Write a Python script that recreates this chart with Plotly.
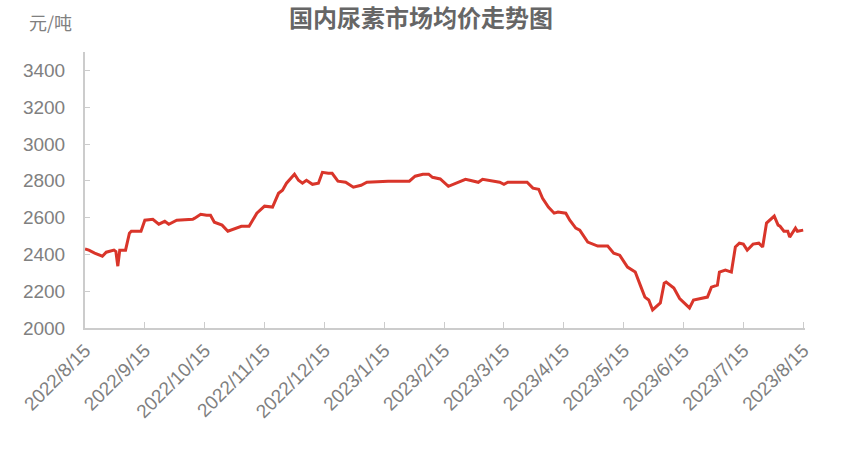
import datetime as dt
import plotly.graph_objects as go

# ---- data ----
dates = [
    "2022-08-15", "2022-08-17", "2022-08-20", "2022-08-24", "2022-08-26", "2022-08-30", "2022-08-31",
    "2022-09-01", "2022-09-02", "2022-09-05", "2022-09-07", "2022-09-08", "2022-09-13", "2022-09-15",
    "2022-09-19", "2022-09-22", "2022-09-25", "2022-09-27", "2022-10-01", "2022-10-09", "2022-10-10",
    "2022-10-13", "2022-10-16", "2022-10-18", "2022-10-20", "2022-10-24", "2022-10-27", "2022-11-01",
    "2022-11-03", "2022-11-07", "2022-11-11", "2022-11-15", "2022-11-18", "2022-11-19", "2022-11-22",
    "2022-11-24", "2022-11-26", "2022-11-30", "2022-12-02", "2022-12-04", "2022-12-06", "2022-12-09",
    "2022-12-12", "2022-12-14", "2022-12-17", "2022-12-19", "2022-12-22", "2022-12-26", "2022-12-30",
    "2023-01-03", "2023-01-06", "2023-01-17", "2023-01-28", "2023-01-31", "2023-02-04", "2023-02-07",
    "2023-02-09", "2023-02-13", "2023-02-17", "2023-02-21", "2023-02-25", "2023-02-27", "2023-03-03",
    "2023-03-05", "2023-03-10", "2023-03-13", "2023-03-15", "2023-03-17", "2023-03-27", "2023-03-30",
    "2023-04-02", "2023-04-04", "2023-04-07", "2023-04-10", "2023-04-12", "2023-04-16", "2023-04-18",
    "2023-04-21", "2023-04-23", "2023-04-27", "2023-05-02", "2023-05-07", "2023-05-10", "2023-05-13",
    "2023-05-17", "2023-05-21", "2023-05-24", "2023-05-26", "2023-05-28", "2023-05-30", "2023-06-03",
    "2023-06-05", "2023-06-06", "2023-06-10", "2023-06-13", "2023-06-16", "2023-06-18", "2023-06-20",
    "2023-06-25", "2023-06-27", "2023-06-29", "2023-07-02", "2023-07-03", "2023-07-06", "2023-07-09",
    "2023-07-11", "2023-07-13", "2023-07-15", "2023-07-17", "2023-07-20", "2023-07-23", "2023-07-25",
    "2023-07-27", "2023-07-31", "2023-08-02", "2023-08-03", "2023-08-05", "2023-08-07", "2023-08-08",
    "2023-08-11", "2023-08-12", "2023-08-15",
]
prices = [
    2430, 2423, 2407, 2390, 2412, 2423, 2415,
    2336, 2423, 2423, 2515, 2526, 2526, 2586,
    2591, 2564, 2580, 2564, 2586, 2591, 2597,
    2618, 2613, 2613, 2575, 2559, 2526, 2543,
    2553, 2553, 2624, 2662, 2657, 2657, 2732,
    2749, 2787, 2836, 2803, 2787, 2803, 2781,
    2787, 2846, 2841, 2841, 2798, 2792, 2765,
    2776, 2792, 2798, 2798, 2825, 2836, 2836,
    2819, 2810, 2770, 2787, 2808, 2803, 2792,
    2808, 2798, 2792, 2781, 2792, 2792, 2760,
    2754, 2705, 2657, 2624, 2630, 2624, 2586,
    2543, 2532, 2467, 2445, 2445, 2407, 2396,
    2331, 2304, 2222, 2168, 2152, 2098, 2136,
    2244, 2250, 2217, 2160, 2130, 2109, 2152,
    2163, 2168, 2222, 2233, 2304, 2315, 2304,
    2440, 2461, 2456, 2423, 2456, 2461, 2440,
    2570, 2608, 2559, 2553, 2526, 2526, 2494,
    2543, 2526, 2532,
]
tick_labels = [
    "2022/8/15", "2022/9/15", "2022/10/15", "2022/11/15", "2022/12/15",
    "2023/1/15", "2023/2/15", "2023/3/15", "2023/4/15", "2023/5/15",
    "2023/6/15", "2023/7/15", "2023/8/15",
]
y_ticks = [2000, 2200, 2400, 2600, 2800, 3000, 3200, 3400]

# monthly anchors (15th of each month), equally spaced on the axis
anchors = []
for lab in tick_labels:
    y_, m_, d_ = (int(v) for v in lab.split("/"))
    anchors.append(dt.date(y_, m_, d_))


def month_pos(s):
    d = dt.date.fromisoformat(s)
    for k in range(len(anchors) - 1):
        if anchors[k] <= d < anchors[k + 1]:
            return k + (d - anchors[k]).days / (anchors[k + 1] - anchors[k]).days
    return float(len(anchors) - 1)


xpos = [month_pos(s) for s in dates]

FONT = "Noto Sans CJK SC, Noto Sans, Liberation Sans, sans-serif"
TICKFONT = "Liberation Sans, Noto Sans, sans-serif"

fig = go.Figure()
fig.add_trace(go.Scatter(
    x=xpos, y=prices, mode="lines",
    line=dict(color="#d9352a", width=3),
    hoverinfo="skip", showlegend=False,
))

fig.update_layout(
    width=854, height=454,
    margin=dict(l=85, r=49, t=52, b=126, autoexpand=False),
    paper_bgcolor="white", plot_bgcolor="white",
    font=dict(family=FONT, color="#777777", size=15),
    title=dict(text="<b>国内尿素市场均价走势图</b>", x=421 / 854, xanchor="center",
               xref="container", yref="container",
               y=1 - 19 / 454, yanchor="middle",
               font=dict(size=24, color="#666666", family=FONT)),
    xaxis=dict(
        range=[0, 12.03], tickmode="array",
        tickvals=list(range(len(tick_labels))), ticktext=tick_labels,
        tickangle=-45, showgrid=False, zeroline=False, automargin=False,
        showline=True, linecolor="#cccccc", linewidth=2,
        ticks="inside", ticklen=6, tickcolor="#cccccc",
        ticklabelstandoff=2,
        tickfont=dict(size=19, color="#808080", family=TICKFONT),
    ),
    yaxis=dict(
        range=[2000, 3500], tickmode="array", tickvals=y_ticks,
        showgrid=False, zeroline=False, automargin=False,
        showline=True, linecolor="#cccccc", linewidth=2,
        ticks="inside", ticklen=5, tickcolor="#cccccc",
        ticklabelstandoff=14,
        tickfont=dict(size=19, color="#808080", family=TICKFONT),
    ),
    annotations=[dict(
        text="元/吨", xref="paper", yref="paper", x=-0.0486, y=1.109,
        xanchor="center", yanchor="middle", showarrow=False,
        font=dict(size=18, color="#808080", family=FONT),
    )],
)

fig.write_html("out.html", config={"displayModeBar": False},
               post_script="document.body.style.margin='0';")
